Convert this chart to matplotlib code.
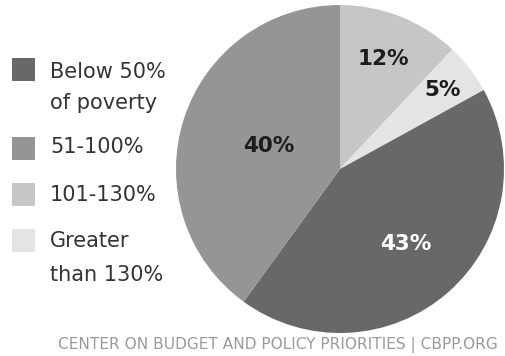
import numpy as np
import matplotlib.pyplot as plt
from matplotlib.patches import Rectangle

# slices, clockwise from 12 o'clock
shares = [12, 5, 43, 40]
share_labels = ["12%", "5%", "43%", "40%"]
slice_colors = ["#c6c6c6", "#e4e4e4", "#686868", "#959595"]
label_colors = ["#1c1c1c", "#1c1c1c", "#ffffff", "#1c1c1c"]
label_radius = [0.72, 0.79, 0.61, 0.46]

# legend entries, top to bottom
legend_labels = ["Below 50%\nof poverty", "51-100%", "101-130%", "Greater\nthan 130%"]
legend_colors = ["#686868", "#959595", "#c6c6c6", "#e4e4e4"]

source = "CENTER ON BUDGET AND POLICY PRIORITIES | CBPP.ORG"

W, H = 506, 356
plt.rcParams["font.family"] = ["DejaVu Sans"]
fig = plt.figure(figsize=(W / 100, H / 100), dpi=100)
fig.patch.set_facecolor("white")

# pie
cx, cy, r = 340, 169, 164
ax = fig.add_axes([(cx - r) / W, (H - cy - r) / H, 2 * r / W, 2 * r / H])
wedges, _ = ax.pie(shares, colors=slice_colors, startangle=90, counterclock=False,
                   radius=1.0, wedgeprops=dict(linewidth=0))
ax.set_xlim(-1, 1)
ax.set_ylim(-1, 1)
ax.set_aspect("auto")
ax.axis("off")

for w, lab, col, d in zip(wedges, share_labels, label_colors, label_radius):
    ang = np.deg2rad((w.theta1 + w.theta2) / 2)
    ax.text(d * np.cos(ang), d * np.sin(ang), lab, ha="center", va="center",
            fontsize=15.5, fontweight="bold", color=col)

# legend: square top, then baseline of each text line (pixels from top)
sq = 23
square_top = [58, 137, 183, 229]
line_base = [[78, 109], [153], [201], [247, 281]]
for top, bases, lab, col in zip(square_top, line_base, legend_labels, legend_colors):
    fig.patches.append(Rectangle((12 / W, 1 - (top + sq) / H), sq / W, sq / H,
                                 transform=fig.transFigure, facecolor=col,
                                 edgecolor="none"))
    for b, line in zip(bases, lab.split("\n")):
        fig.text(50 / W, 1 - b / H, line, ha="left", va="baseline",
                 fontsize=15, color="#333333")

# source line
fig.text(58 / W, 1 - 349 / H, source, ha="left", va="baseline",
         fontsize=11.1, color="#9a9a9a")

fig.savefig("out.png", dpi=100)
